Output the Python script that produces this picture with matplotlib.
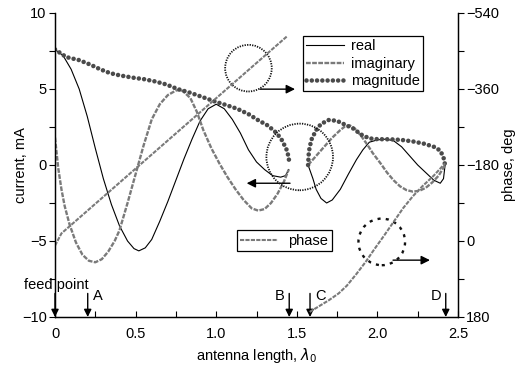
import matplotlib
matplotlib.use('Agg')
import matplotlib.pyplot as plt
from matplotlib.patches import Ellipse

plt.rcParams['font.family'] = ['Liberation Sans', 'DejaVu Sans']
plt.rcParams['font.size'] = 10.5
plt.rcParams['mathtext.fontset'] = 'dejavusans'

# real part, two segments (feed..B, C..D)
real_x1 = [0.00, 0.05, 0.10, 0.15, 0.20, 0.25, 0.30, 0.35, 0.40, 0.45, 0.49, 0.52, 0.56,
           0.60, 0.65, 0.70, 0.75, 0.80, 0.85, 0.90, 0.95, 1.00, 1.05, 1.10, 1.15,
           1.20, 1.25, 1.30, 1.35, 1.40, 1.43, 1.45]
real_y1 = [7.6, 7.2, 6.3, 5.0, 3.2, 1.1, -0.9, -2.6, -4.0, -5.0, -5.5, -5.65, -5.45,
           -4.9, -3.7, -2.4, -1.0, 0.4, 1.7, 2.9, 3.7, 4.0, 3.7, 3.0, 2.1,
           1.0, 0.2, -0.3, -0.7, -0.8, -0.7, -0.3]
real_x2 = [1.57, 1.60, 1.62, 1.65, 1.685, 1.72, 1.77, 1.82, 1.87, 1.91, 1.95, 2.00,
           2.05, 2.10, 2.15, 2.20, 2.25, 2.30, 2.35, 2.39, 2.41, 2.42]
real_y2 = [0.0, -0.9, -1.6, -2.2, -2.5, -2.3, -1.6, -0.6, 0.35, 1.0, 1.5, 1.65,
           1.7, 1.6, 1.2, 0.6, 0.0, -0.5, -1.0, -1.2, -0.9, 0.0]

# imaginary part
imag_x1 = [0.00, 0.02, 0.04, 0.06, 0.09, 0.13, 0.17, 0.21, 0.25, 0.29, 0.33, 0.37,
           0.40, 0.45, 0.50, 0.55, 0.60, 0.65, 0.70, 0.75, 0.78, 0.80, 0.84, 0.88,
           0.92, 0.97, 1.02, 1.07, 1.12, 1.17, 1.22, 1.26, 1.30, 1.34, 1.38, 1.42, 1.45]
imag_y1 = [1.8, -0.2, -1.6, -2.7, -3.9, -5.1, -5.9, -6.3, -6.4, -6.2, -5.7, -5.0,
           -4.3, -2.5, -0.6, 1.3, 3.0, 4.0, 4.6, 4.9, 4.95, 4.8, 4.4, 3.5,
           2.3, 1.1, 0.1, -0.8, -1.6, -2.3, -2.85, -3.0, -2.9, -2.5, -1.9, -1.1, -0.3]
imag_x2 = [1.57, 1.62, 1.67, 1.72, 1.77, 1.80, 1.83, 1.86, 1.90, 1.94, 1.97, 2.02,
           2.06, 2.10, 2.14, 2.18, 2.22, 2.26, 2.30, 2.34, 2.38, 2.42]
imag_y2 = [0.0, 0.6, 1.2, 1.8, 2.3, 2.55, 2.6, 2.4, 1.9, 1.3, 0.8, 0.1,
           -0.5, -1.0, -1.4, -1.65, -1.75, -1.7, -1.5, -1.15, -0.7, 0.0]

# magnitude
mag_x1 = [0.00, 0.07, 0.15, 0.22, 0.28, 0.34, 0.40, 0.48, 0.55, 0.62, 0.69, 0.76,
          0.84, 0.92, 1.00, 1.06, 1.13, 1.20, 1.26, 1.32, 1.375, 1.41, 1.437, 1.45, 1.453]
mag_y1 = [7.6, 7.1, 6.9, 6.6, 6.3, 6.05, 5.9, 5.75, 5.65, 5.5, 5.3, 5.0,
          4.75, 4.45, 4.15, 3.95, 3.7, 3.35, 2.95, 2.6, 2.1, 1.6, 1.0, 0.5, 0.1]
mag_x2 = [1.57, 1.575, 1.59, 1.62, 1.65, 1.70, 1.75, 1.80, 1.85, 1.90, 1.95, 2.00,
          2.08, 2.15, 2.22, 2.29, 2.35, 2.39, 2.41, 2.42]
mag_y2 = [0.0, 0.9, 1.65, 2.3, 2.7, 2.97, 2.9, 2.65, 2.4, 2.0, 1.75, 1.7,
          1.69, 1.65, 1.55, 1.4, 1.2, 0.95, 0.5, 0.0]

# phase, deg (right axis)
phase_x1 = [0.00, 0.04, 1.44]
phase_y1 = [11, -18, -485]
phase_x2 = [1.58, 1.64, 1.70, 1.76, 1.81, 1.87, 1.93, 1.98, 2.04, 2.10, 2.16,
            2.22, 2.28, 2.35, 2.42]
phase_y2 = [168, 154, 140, 124, 106, 78, 48, 20, -12, -45, -78,
            -106, -130, -155, -184]

# marked points along the antenna
mark_x = [0.0, 0.203, 1.453, 1.582, 2.424]
mark_lbl = ['feed point', 'A', 'B', 'C', 'D']

xticks = [0, 0.5, 1.0, 1.5, 2.0, 2.5]
xticklabels = ['0', '0.5', '1.0', '1.5', '2.0', '2.5']
yticks = [-10, -5, 0, 5, 10]
phase_ticks = [-540, -360, -180, 0, 180]

# annotation circles: center (x, current), radius px, arrow (x0, x1, y)
circles = [(1.200, 6.37, 23.3, 'dense'), (1.518, 0.53, 33.3, 'dense'),
           (2.027, -5.06, 23.3, 'dash')]
circle_arrows = [(1.272, 1.489, 4.99), (1.458, 1.189, -1.2), (2.097, 2.326, -6.26)]

fig = plt.figure(figsize=(5.25, 3.69), dpi=100)
ax = fig.add_axes([55 / 525, 1 - 317 / 369, 403 / 525, 304 / 369])
ax2 = ax.twinx()

imag_style = dict(color='#7a7a7a', lw=1.7, linestyle=(0, (2, 0.6)))
mag_style = dict(color='#4a4a4a', lw=3.3, linestyle=(0, (0.001, 1.15)),
                 dash_capstyle='round')

ax.plot(real_x1, real_y1, color='black', lw=0.8, label='real')
ax.plot(real_x2, real_y2, color='black', lw=0.8)
ax.plot(imag_x1, imag_y1, label='imaginary', **imag_style)
ax.plot(imag_x2, imag_y2, **imag_style)
ax.plot(mag_x1, mag_y1, label='magnitude', **mag_style)
ax.plot(mag_x2, mag_y2, **mag_style)

ph_style = dict(color='#7a7a7a', lw=1.5, linestyle=(0, (2, 0.6)))
ax2.plot(phase_x1, phase_y1, label='phase', **ph_style)
ax2.plot(phase_x2, phase_y2, **ph_style)

ax.set_xlim(0, 2.5)
ax.set_ylim(-10, 10)
ax2.set_ylim(180, -540)

ax.set_xticks(xticks)
ax.set_xticklabels(xticklabels)
ax.set_xticks([0.25, 0.75, 1.25, 1.75, 2.25], minor=True)
ax.set_yticks(yticks)
ax.set_yticks([-7.5, -2.5, 2.5, 7.5], minor=True)
ax2.set_yticks(phase_ticks)
ax2.set_yticks([-450, -270, -90, 90], minor=True)

ax.tick_params(axis='x', which='both', direction='in', length=4, width=0.8, pad=7)
ax.tick_params(axis='y', which='both', direction='out', length=4, width=0.8, pad=2)
ax2.tick_params(axis='y', which='both', direction='out', length=4, width=0.8, pad=2)

for a in (ax, ax2):
    a.spines['top'].set_visible(False)
    for s in a.spines.values():
        s.set_linewidth(0.9)

ax.set_xlabel(r'antenna length, $\lambda_0$')
ax.set_ylabel('current, mA')
ax2.set_ylabel('phase, deg')
ax.xaxis.set_label_coords(0.5, -0.095)
ax.yaxis.set_label_coords(-0.068, 0.5)
ax2.yaxis.set_label_coords(1.11, 0.5)

# circles and arrows
px_x = 403 / 2.5
px_y = 304 / 20.0
for cx, cy, r, kind in circles:
    if kind == 'dense':
        ls, lw = (0, (0.7, 0.7)), 1.3
    else:
        ls, lw = (0, (1.3, 2.2)), 1.7
    ax.add_patch(Ellipse((cx, cy), 2 * r / px_x, 2 * r / px_y, fill=False,
                         edgecolor='#111111', lw=lw, linestyle=ls, zorder=5))
for x0, x1, y in circle_arrows:
    ax.annotate('', xy=(x1, y), xytext=(x0, y),
                arrowprops=dict(arrowstyle='-|>', color='black', lw=1.0,
                                mutation_scale=13, shrinkA=0, shrinkB=0))

# marker arrows at the bottom
for x, lbl in zip(mark_x, mark_lbl):
    ax.annotate('', xy=(x, -10), xytext=(x, -8.45),
                arrowprops=dict(arrowstyle='-|>', color='black', lw=1.0,
                                mutation_scale=11, shrinkA=0, shrinkB=0),
                annotation_clip=False)
    if lbl == 'feed point':
        ax.text(x + 0.01, -7.9, lbl, ha='center', va='center')
    elif lbl in ('A', 'C'):
        ax.text(x + 0.03, -8.6, lbl, ha='left', va='center')
    else:
        ax.text(x - 0.03, -8.6, lbl, ha='right', va='center')

leg1 = ax.legend(loc='upper left', bbox_to_anchor=(0.615, 0.924), borderaxespad=0,
                 frameon=True, fancybox=False, edgecolor='black', framealpha=1,
                 handlelength=2.6, handletextpad=0.5, labelspacing=0.25,
                 borderpad=0.2)
leg1.get_frame().set_linewidth(0.9)
leg2 = ax2.legend(loc='upper left', bbox_to_anchor=(0.451, 0.286), borderaxespad=0,
                  frameon=True, fancybox=False, edgecolor='black', framealpha=1,
                  handlelength=2.6, handletextpad=0.7, borderpad=0.25)
leg2.get_frame().set_linewidth(0.9)

fig.savefig('out.png', dpi=100)
